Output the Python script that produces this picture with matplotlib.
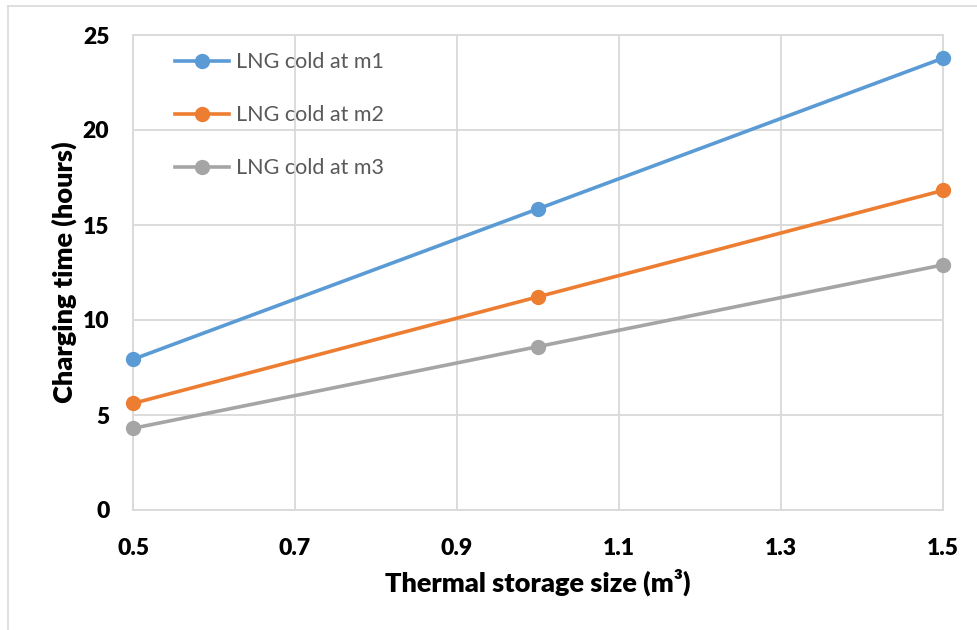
import matplotlib
matplotlib.use("Agg")
import matplotlib.pyplot as plt
from matplotlib.lines import Line2D

# Charging time (hours) versus thermal storage size (m^3)
sizes = [0.5, 1.0, 1.5]
m1_hours = [7.93, 15.85, 23.78]
m2_hours = [5.61, 11.22, 16.82]
m3_hours = [4.30, 8.60, 12.90]
series_labels = ["LNG cold at m1", "LNG cold at m2", "LNG cold at m3"]
series_colors = ["#5B9BD5", "#ED7D31", "#A5A5A5"]
x_ticks = [0.5, 0.7, 0.9, 1.1, 1.3, 1.5]
y_ticks = [0, 5, 10, 15, 20, 25]

plt.rcParams["font.family"] = ["Lato", "DejaVu Sans"]
plt.rcParams["font.weight"] = "heavy"
plt.rcParams["axes.labelweight"] = "heavy"

fig = plt.figure(figsize=(9.78, 6.3), dpi=100)
ax = fig.add_axes([133 / 978, 1 - 510 / 630, 810 / 978, 475 / 630])

# Outer chart frame (top and left edges visible)
fig.add_artist(Line2D([8 / 978, 1.0], [1 - 6 / 630, 1 - 6 / 630],
                      transform=fig.transFigure, color="#D9D9D9", lw=1.2))
fig.add_artist(Line2D([8 / 978, 8 / 978], [0.0, 1 - 6 / 630],
                      transform=fig.transFigure, color="#D9D9D9", lw=1.2))

for ys, lab, col in zip([m1_hours, m2_hours, m3_hours], series_labels, series_colors):
    ax.plot(sizes, ys, color=col, lw=2.6, marker="o", ms=10, label=lab,
            clip_on=False, zorder=3)

ax.set_xlim(0.5, 1.5)
ax.set_ylim(0, 25)
ax.set_xticks(x_ticks)
ax.set_yticks(y_ticks)
ax.set_xticklabels([f"{v:.1f}" for v in x_ticks])
ax.set_yticklabels([str(v) for v in y_ticks])
ax.grid(True, color="#D9D9D9", lw=1.3)
ax.set_axisbelow(True)
for s in ax.spines.values():
    s.set_color("#D9D9D9")
    s.set_linewidth(1.3)
ax.tick_params(length=0, labelsize=16.5, labelcolor="black")
ax.tick_params(axis="x", pad=20)
ax.tick_params(axis="y", pad=17)

ax.set_xlabel("Thermal storage size (m³)", fontsize=19.5, fontweight="heavy", labelpad=7)
ax.set_ylabel("Charging time (hours)", fontsize=19.5, fontweight="heavy", labelpad=4)

leg = ax.legend(loc="upper left", bbox_to_anchor=(0.028, 1.004), frameon=False,
                prop={"size": 15.5, "weight": "normal"}, labelspacing=1.53,
                handlelength=2.5, handletextpad=0.35, labelcolor="#595959")

fig.savefig("out.png", dpi=100, facecolor="white")
